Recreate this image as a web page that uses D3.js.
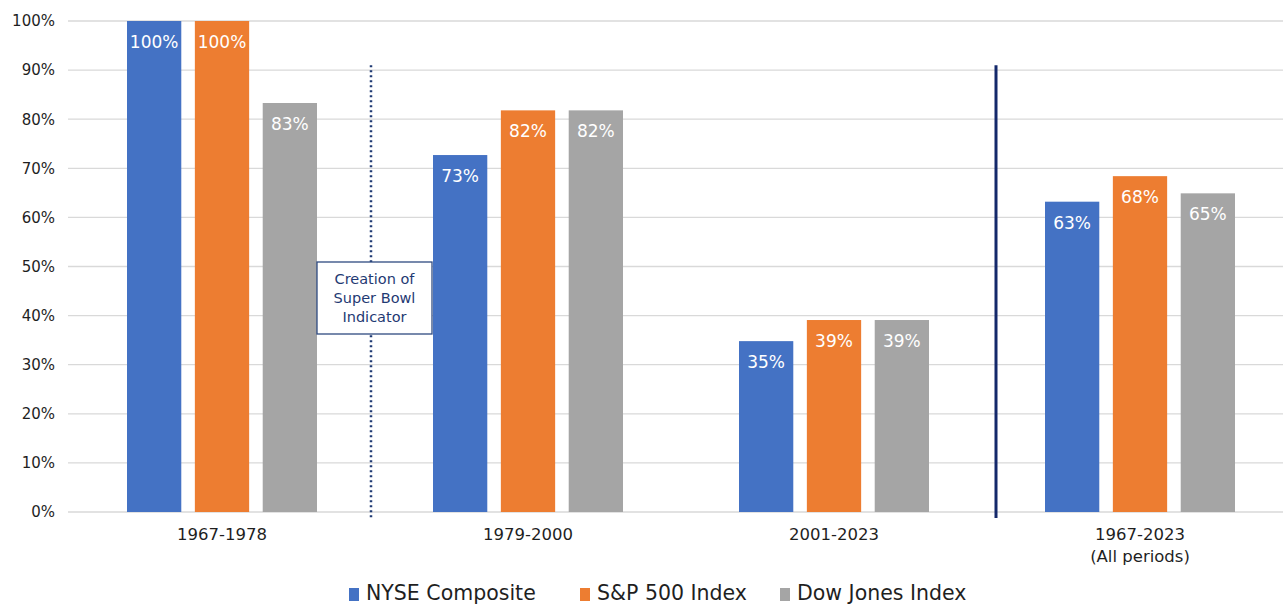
<!DOCTYPE html>
<html>
<head>
<meta charset="utf-8">
<script src="https://cdn.jsdelivr.net/npm/d3@7"></script>
<style>
  body { margin: 0; background: #fff; }
  svg { font-family: "DejaVu Sans", sans-serif; }
</style>
</head>
<body>
<svg id="chart" width="1283" height="605"></svg>
<script>
const periods = ["1967-1978", "1979-2000", "2001-2023", "1967-2023"];
const periodSub = ["", "", "", "(All periods)"];
const seriesNames = ["NYSE Composite", "S&P 500 Index", "Dow Jones Index"];
const colors = ["#4472C4", "#ED7D31", "#A5A5A5"];
const nyse = [100, 72.7, 34.8, 63.2];
const sp500 = [100, 81.8, 39.1, 68.4];
const dow = [83.3, 81.8, 39.1, 64.9];
const yTicks = [0, 10, 20, 30, 40, 50, 60, 70, 80, 90, 100];

const seriesValues = [nyse, sp500, dow];

const margin = { top: 21, right: -10, bottom: 93, left: 69 },
      width = 1283 - margin.left - margin.right,
      height = 605 - margin.top - margin.bottom;

const svg = d3.select("#chart");
const g = svg.append("g").attr("transform", `translate(${margin.left},${margin.top})`);

const x = d3.scaleBand().domain(periods).range([0, width]).paddingInner(0).paddingOuter(0);
const x1 = d3.scaleBand().domain(seriesNames).range([58, 248]).paddingInner(0.2);
const y = d3.scaleLinear().domain([0, 100]).range([height, 0]);

// gridlines
g.selectAll(".grid")
  .data(yTicks)
  .enter().append("line")
  .attr("x1", -1)
  .attr("x2", width)
  .attr("y1", d => y(d))
  .attr("y2", d => y(d))
  .attr("stroke", "#d9d9d9")
  .attr("stroke-width", 1.3);

// y axis labels
const yAxis = g.append("g")
  .call(d3.axisLeft(y).tickValues(yTicks).tickFormat(d => d + "%").tickSize(0).tickPadding(14));
yAxis.select(".domain").remove();
yAxis.attr("font-family", "'DejaVu Sans', sans-serif");
yAxis.selectAll("text")
  .attr("font-size", 15)
  .attr("fill", "#1f1f1f");

// bars
const groups = g.selectAll(".group")
  .data(periods)
  .enter().append("g")
  .attr("transform", d => `translate(${x(d)},0)`);

groups.each(function (p, i) {
  const gg = d3.select(this);
  seriesNames.forEach((s, j) => {
    const v = seriesValues[j][i];
    gg.append("rect")
      .attr("x", x1(s))
      .attr("width", x1.bandwidth())
      .attr("y", y(v))
      .attr("height", height - y(v))
      .attr("fill", colors[j]);
    gg.append("text")
      .attr("x", x1(s) + x1.bandwidth() / 2)
      .attr("y", y(v) + 27)
      .attr("text-anchor", "middle")
      .attr("font-size", 17)
      .attr("fill", "#fff")
      .text(Math.round(v) + "%");
  });
});

// category labels
const xAxis = g.append("g")
  .attr("transform", `translate(0,${height})`)
  .call(d3.axisBottom(x).tickSize(0).tickPadding(16));
xAxis.select(".domain").remove();
xAxis.attr("font-family", "'DejaVu Sans', sans-serif");
xAxis.selectAll("text")
  .attr("font-size", 16.5)
  .attr("fill", "#1f1f1f");
xAxis.selectAll(".tick")
  .filter(d => periodSub[periods.indexOf(d)] !== "")
  .append("text")
  .attr("y", 38)
  .attr("dy", "0.71em")
  .attr("text-anchor", "middle")
  .attr("font-size", 16.5)
  .attr("fill", "#1f1f1f")
  .text(d => periodSub[periods.indexOf(d)]);

// dotted separator and annotation
const dotX = 302;
g.append("line")
  .attr("x1", dotX).attr("x2", dotX)
  .attr("y1", y(91)).attr("y2", height + 6)
  .attr("stroke", "#1f3a73")
  .attr("stroke-width", 2.5)
  .attr("stroke-dasharray", "2,3");

g.append("rect")
  .attr("x", 248).attr("y", 241)
  .attr("width", 115).attr("height", 72)
  .attr("fill", "#fff")
  .attr("stroke", "#2e4a80")
  .attr("stroke-width", 1.3);

["Creation of", "Super Bowl", "Indicator"].forEach((t, i) => {
  g.append("text")
    .attr("x", 305.5)
    .attr("y", 263 + i * 19)
    .attr("text-anchor", "middle")
    .attr("font-size", 14.5)
    .attr("fill", "#1f3a73")
    .text(t);
});

// solid separator
g.append("line")
  .attr("x1", 927).attr("x2", 927)
  .attr("y1", y(91)).attr("y2", height + 6)
  .attr("stroke", "#14296b")
  .attr("stroke-width", 3);

// legend
const legend = svg.append("g").attr("transform", "translate(349,600)");
const legendX = [0, 231, 431];
seriesNames.forEach((s, j) => {
  legend.append("rect")
    .attr("x", legendX[j]).attr("y", -12)
    .attr("width", 10).attr("height", 13)
    .attr("fill", colors[j]);
  legend.append("text")
    .attr("x", legendX[j] + 17)
    .attr("y", 0)
    .attr("font-size", 20.5)
    .attr("fill", "#1f1f1f")
    .text(s);
});
</script>
</body>
</html>
